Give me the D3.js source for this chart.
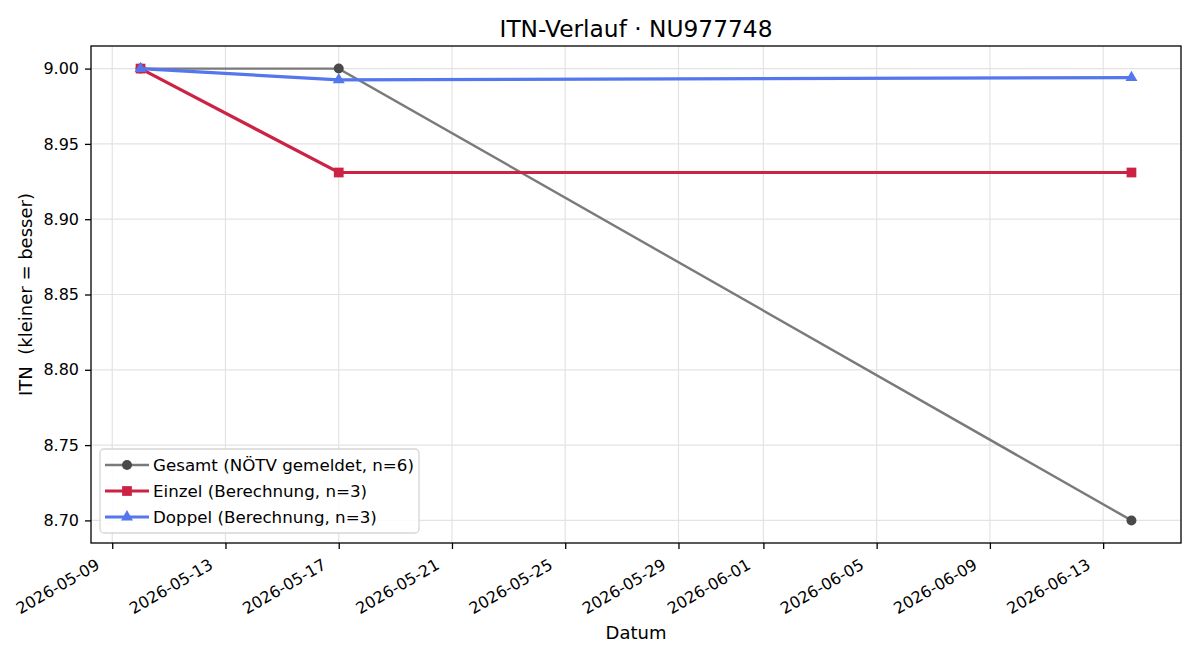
<!DOCTYPE html>
<html>
<head>
<meta charset="utf-8">
<script src="https://cdn.jsdelivr.net/npm/d3@7"></script>
<style>
  body { margin: 0; background: #fff; }
  svg text { font-family: "DejaVu Sans", sans-serif; }
</style>
</head>
<body>
<div id="chart"></div>
<script>
const dates = ["2026-05-10", "2026-05-17", "2026-06-14"];
const gesamt = [9.00, 9.00, 8.70];
const einzel = [9.00, 8.931, 8.931];
const doppel = [9.00, 8.9925, 8.994];
const xTicks = ["2026-05-09", "2026-05-13", "2026-05-17", "2026-05-21", "2026-05-25",
                "2026-05-29", "2026-06-01", "2026-06-05", "2026-06-09", "2026-06-13"];
const yTicks = [8.70, 8.75, 8.80, 8.85, 8.90, 8.95, 9.00];

const width = 1200, height = 660;
const margin = { top: 46, right: 19, bottom: 117, left: 91 };
const W = width - margin.left - margin.right;
const H = height - margin.top - margin.bottom;
const tickFS = '16px', legFS = '16.7px', labFS = '18px';

const parse = d3.utcParse("%Y-%m-%d");
const t0 = parse(dates[0]).getTime(), t1 = parse(dates[dates.length - 1]).getTime();
const xPad = (t1 - t0) * 0.05;
const xScale = d3.scaleUtc().domain([new Date(t0 - xPad), new Date(t1 + xPad)]).range([0, W]);
const yScale = d3.scaleLinear().domain([8.685, 9.015]).range([H, 0]);

const svg = d3.select('#chart').append('svg').attr('width', width).attr('height', height);
const g = svg.append('g').attr('transform', `translate(${margin.left},${margin.top})`);

// grid
g.append('g').selectAll('line').data(xTicks).join('line')
  .attr('x1', d => xScale(parse(d))).attr('x2', d => xScale(parse(d)))
  .attr('y1', 0).attr('y2', H).attr('stroke', '#e3e3e3').attr('stroke-width', 1.2);
g.append('g').selectAll('line').data(yTicks).join('line')
  .attr('y1', d => yScale(d)).attr('y2', d => yScale(d))
  .attr('x1', 0).attr('x2', W).attr('stroke', '#e3e3e3').attr('stroke-width', 1.2);

// axes
const xAxis = g.append('g').attr('transform', `translate(0,${H})`)
  .call(d3.axisBottom(xScale).tickValues(xTicks.map(parse)).tickFormat(d3.utcFormat('%Y-%m-%d'))
    .tickSize(6).tickPadding(6));
xAxis.select('.domain').remove();
xAxis.selectAll('line').attr('stroke', '#000').attr('stroke-width', 1.3);
xAxis.selectAll('text')
  .attr('font-size', tickFS).attr('fill', '#000')
  .attr('text-anchor', 'end').attr('dy', null).attr('y', null)
  .attr('transform', 'translate(-12,25) rotate(-30)');

const yAxis = g.append('g')
  .call(d3.axisLeft(yScale).tickValues(yTicks).tickFormat(d3.format('.2f')).tickSize(6).tickPadding(6));
yAxis.select('.domain').remove();
yAxis.selectAll('line').attr('stroke', '#000').attr('stroke-width', 1.3);
yAxis.selectAll('text').attr('font-size', tickFS).attr('fill', '#000');

// lines
const series = [
  { name: 'Gesamt (NÖTV gemeldet, n=6)', values: gesamt, line: '#7a7a7a', fill: '#4a4a4a', lw: 2.4, marker: 'circle' },
  { name: 'Einzel (Berechnung, n=3)', values: einzel, line: '#cc2244', fill: '#cc2244', lw: 3.2, marker: 'square' },
  { name: 'Doppel (Berechnung, n=3)', values: doppel, line: '#5577ee', fill: '#5577ee', lw: 3.2, marker: 'triangle' },
];
const symbols = { circle: d3.symbolCircle, square: d3.symbolSquare, triangle: d3.symbolTriangle };
const symSize = { circle: 78, square: 95, triangle: 62 };

const lineGen = d3.line().x(d => xScale(parse(d.date))).y(d => yScale(d.v));

series.forEach(s => {
  const pts = dates.map((d, i) => ({ date: d, v: s.values[i] }));
  g.append('path').datum(pts)
    .attr('fill', 'none').attr('stroke', s.line).attr('stroke-width', s.lw).attr('d', lineGen);
  g.selectAll(null).data(pts).join('path')
    .attr('transform', d => `translate(${xScale(parse(d.date))},${yScale(d.v)})`)
    .attr('d', d3.symbol(symbols[s.marker], symSize[s.marker]))
    .attr('fill', s.fill);
});

// frame
g.append('rect').attr('width', W).attr('height', H)
  .attr('fill', 'none').attr('stroke', '#000').attr('stroke-width', 1.3);

// legend
const lg = g.append('g').attr('transform', 'translate(9,403)');
lg.append('rect').attr('width', 319).attr('height', 84).attr('rx', 4)
  .attr('fill', '#fff').attr('fill-opacity', 0.85).attr('stroke', '#d6d6d6').attr('stroke-width', 1.3);
series.forEach((s, i) => {
  const y = 16 + i * 26;
  lg.append('line').attr('x1', 5).attr('x2', 49).attr('y1', y).attr('y2', y)
    .attr('stroke', s.line).attr('stroke-width', s.lw);
  lg.append('path').attr('transform', `translate(27,${y})`)
    .attr('d', d3.symbol(symbols[s.marker], symSize[s.marker]))
    .attr('fill', s.fill);
  lg.append('text').attr('x', 53).attr('y', y).attr('dy', '0.35em')
    .attr('font-size', legFS).attr('fill', '#000').text(s.name);
});

// titles
svg.append('text').attr('x', margin.left + W / 2).attr('y', 37)
  .attr('text-anchor', 'middle').attr('font-size', '23.3px').attr('fill', '#000')
  .text('ITN-Verlauf · NU977748');
svg.append('text').attr('x', margin.left + W / 2).attr('y', 639)
  .attr('text-anchor', 'middle').attr('font-size', labFS).attr('fill', '#000')
  .text('Datum');
svg.append('text').attr('transform', `translate(32,${margin.top + H / 2}) rotate(-90)`)
  .attr('text-anchor', 'middle').attr('font-size', labFS).attr('fill', '#000')
  .attr('xml:space', 'preserve').style('white-space', 'pre')
  .text('ITN  (kleiner = besser)');
</script>
</body>
</html>
